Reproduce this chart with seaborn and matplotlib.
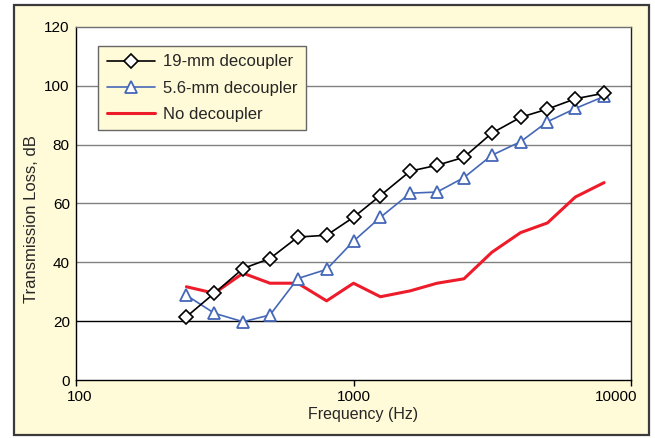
import matplotlib
matplotlib.use("Agg")
import matplotlib.pyplot as plt
import matplotlib.transforms as mtransforms
import seaborn as sns
import pandas as pd
from matplotlib.patches import Rectangle

freqs = [250, 315, 400, 500, 630, 800, 1000, 1250, 1600, 2000, 2500, 3150, 4000, 5000, 6300, 8000]
tl_19mm = [21.5, 29.5, 37.9, 41.3, 48.6, 49.2, 55.3, 62.7, 71.0, 73.0, 75.7, 83.9, 89.3, 92.1, 95.6, 97.5]
tl_56mm = [28.8, 22.7, 19.8, 22.1, 34.5, 37.6, 47.2, 55.3, 63.5, 63.9, 68.8, 76.4, 81.0, 87.8, 92.3, 96.4]
tl_none = [31.7, 29.5, 36.3, 32.9, 32.9, 26.9, 32.9, 28.3, 30.3, 32.9, 34.4, 43.4, 50.1, 53.4, 62.2, 67.1]
labels = ["19-mm decoupler", "5.6-mm decoupler", "No decoupler"]
x_ticks = [100, 1000, 10000]
y_ticks = [0, 20, 40, 60, 80, 100, 120]

sns.set_theme(style="white")
plt.rcParams['font.family'] = ['Liberation Sans', 'DejaVu Sans']

bg = "#FFFAD7"
W, H = 655, 438
fig = plt.figure(figsize=(W/100, H/100), dpi=100, facecolor="white")
fig.patches.append(Rectangle((14/W, 1-435/H), 635/W, 430/H, transform=fig.transFigure,
                             facecolor=bg, edgecolor="#3a3a3a", linewidth=1.6, zorder=-10))
ax = fig.add_axes([76/W, 1-380/H, 555/W, 353/H])
ax.set_facecolor("white")

df = pd.DataFrame({"f": freqs, "a": tl_19mm, "b": tl_56mm, "c": tl_none})

for yv in y_ticks[1:-1]:
    ax.axhline(yv, color="black" if yv == 20 else "#808080", lw=1.0, zorder=1)

sns.lineplot(data=df, x="f", y="a", ax=ax, color="black", lw=1.2, marker="D", markersize=7,
             markerfacecolor="white", markeredgecolor="black", markeredgewidth=1.2,
             label=labels[0], zorder=4)
sns.lineplot(data=df, x="f", y="b", ax=ax, color="#4467B8", lw=1.2, marker="^", markersize=9,
             markerfacecolor="white", markeredgecolor="#4467B8", markeredgewidth=1.3,
             label=labels[1], zorder=3)
sns.lineplot(data=df, x="f", y="c", ax=ax, color="#EE1C2A", lw=2.2, label=labels[2], zorder=2)

ax.set_xscale("log")
ax.set_xlim(100, 10000)
ax.set_ylim(0, 120)
ax.set_xticks(x_ticks)
ax.set_xticklabels([str(v) for v in x_ticks])
ax.minorticks_off()
ax.set_yticks(y_ticks)
ax.tick_params(axis="x", labelsize=11, colors="black", direction="out", length=4.3, width=1,
               pad=3, bottom=True)
ax.tick_params(axis="y", labelsize=11, colors="black", length=0, pad=4.5, left=True)

# Excel-like label offsets at the ends of the x axis
xl = ax.get_xticklabels()
xl[0].set_transform(xl[0].get_transform() + mtransforms.ScaledTranslation(4/100, 0, fig.dpi_scale_trans))
xl[-1].set_transform(xl[-1].get_transform() + mtransforms.ScaledTranslation(-15/100, 0, fig.dpi_scale_trans))

ax.set_xlabel("Frequency (Hz)", fontsize=11.5)
ax.set_ylabel("Transmission Loss, dB", fontsize=12)
ax.xaxis.set_label_coords((363-76)/555, (380-407)/353)
ax.yaxis.set_label_coords((39-76)/555, (380-219)/353)

ax.spines["left"].set_color("black")
ax.spines["bottom"].set_color("black")
ax.spines["right"].set_color("#222222")
ax.spines["top"].set_color("#707070")
for s in ax.spines.values():
    s.set_linewidth(1.0)

leg = ax.legend(loc="upper left", bbox_to_anchor=(0.040, 0.946), borderaxespad=0, fontsize=12,
                frameon=True, fancybox=False, facecolor=bg, edgecolor="#666666", framealpha=1,
                handlelength=2.9, borderpad=0.5, labelspacing=0.68, handletextpad=0.5)
leg.get_frame().set_linewidth(1.0)

fig.savefig("out.png", dpi=100, facecolor="white")
